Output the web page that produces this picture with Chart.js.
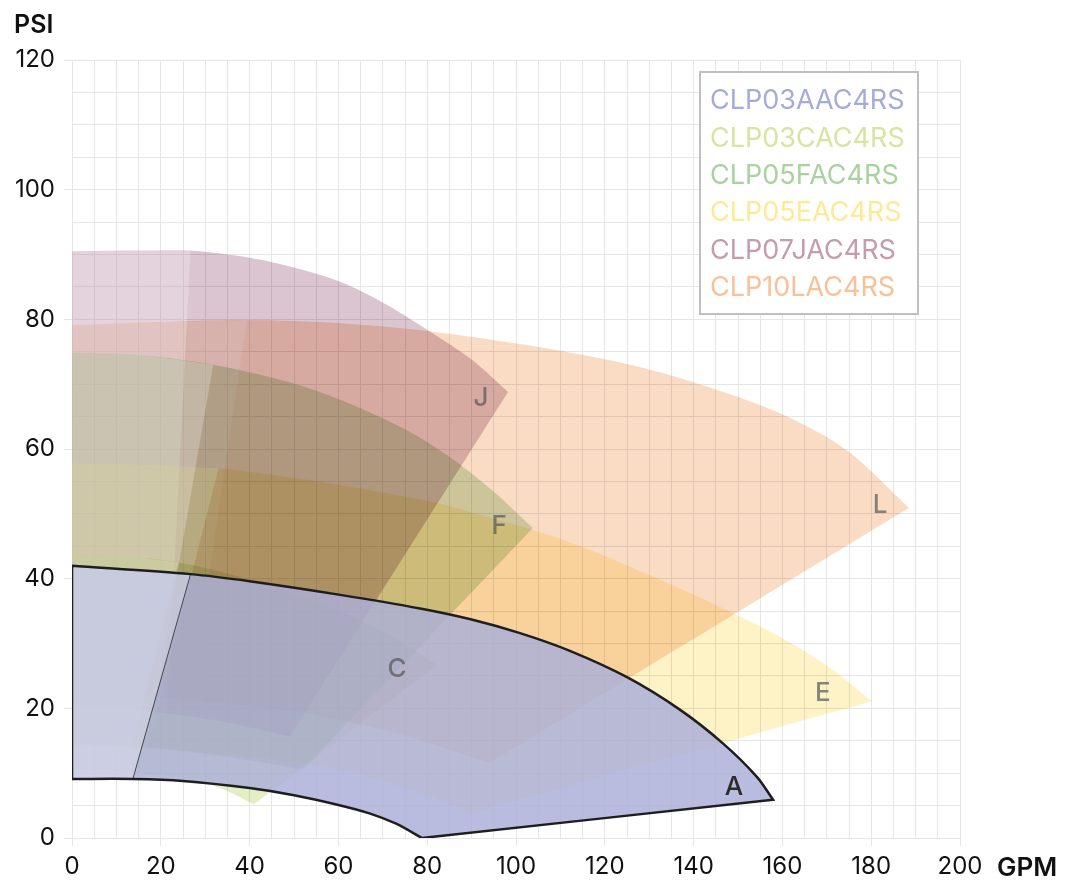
<!DOCTYPE html>
<html>
<head>
<meta charset="utf-8">
<script src="https://cdn.jsdelivr.net/npm/chart.js@4.4.1/dist/chart.umd.min.js"></script>
<style>
  html, body { margin: 0; padding: 0; background: #fff; }
  #wrap { width: 1065px; height: 882px; position: relative; }
</style>
</head>
<body>
<div id="wrap"><canvas id="pumpChart" width="1065" height="882"></canvas></div>
<script>
// Nama pompa dan huruf labelnya
const seriesNames = ['CLP03AAC4RS', 'CLP03CAC4RS', 'CLP05FAC4RS', 'CLP05EAC4RS', 'CLP07JAC4RS', 'CLP10LAC4RS'];
const seriesLetters = ['A', 'C', 'F', 'E', 'J', 'L'];

// Kurva atas (tekanan maks) dan kurva bawah tiap pompa, [GPM, PSI]
const aTop = [[0, 42], [26.7, 40.7], [40, 39.6], [60.4, 37.5], [78.4, 35.4], [90, 33.7], [100.9, 31.6], [112, 28.9], [125, 24.8], [136.9, 19.8], [146.6, 14.6], [154.3, 9.4], [157.9, 5.9]];
const aBottom = [[0, 9.1], [13.7, 9.1], [25, 8.8], [40, 7.7], [50, 6.6], [60, 5.1], [67, 3.8], [73, 2.2], [78.8, 0]];

const cTop = [[0, 43.6], [12, 43.4], [24, 42.5], [35, 40.8], [45, 38.8], [55, 36.5], [65, 33.5], [74, 30.3], [82.2, 26.7]];
const cBottom = [[0, 10.5], [12, 10.2], [24, 9.3], [33, 7.8], [41, 5.2]];

const fTop = [[0, 74.8], [15, 74.5], [31.8, 73], [49, 70.3], [60.4, 67.6], [75.4, 62.9], [85, 58.8], [95, 53.4], [103.8, 47.8]];
const fBottom = [[0, 14.5], [17, 14], [30, 13], [42, 11.8], [52, 10.5]];

const eTop = [[0, 57.8], [20, 57.5], [33, 57], [40, 56.5], [60, 54.5], [82, 51.7], [96, 49], [110.6, 46], [130.9, 40.3], [149.8, 34.4], [159.5, 31], [170, 26.6], [180.2, 21.1]];
const eBottom = [[0, 14], [17, 13.7], [40, 12.5], [60.4, 10.5], [75, 7.8], [90.3, 3.9]];

const jTop = [[0, 90.5], [15, 90.6], [26.7, 90.6], [40, 89.5], [50, 88], [60.4, 85.8], [70, 82.6], [80, 78.4], [90, 73.8], [98.2, 68.8]];
const jBottom = [[0, 20.5], [21.4, 19.2], [35, 17.8], [49, 15.6]];

const lTop = [[0, 79.1], [20, 79.6], [39.4, 79.9], [60.4, 79.4], [80, 78.2], [105.4, 75.7], [125, 73.1], [141.4, 70], [159.5, 65.5], [174.5, 59.8], [188.5, 50.9]];
const lBottom = [[0, 22], [26.7, 21.3], [50, 19.5], [65, 17.5], [78.4, 15.1], [94.1, 11.6]];

// Batas debit minimum (GPM di kurva atas, GPM di kurva bawah)
const minFlowAt = [[26.7, 13.7], [24, 12], [31.8, 17], [33, 17], [26.7, 21.4], [39.4, 26.7]];

// Posisi huruf label [GPM, PSI]
const letterAt = [[149.1, 7.9], [73.2, 26.1], [96.2, 48.1], [169.1, 22.4], [92.1, 67.9], [182, 51.4]];

const curves = [[aTop, aBottom], [cTop, cBottom], [fTop, fBottom], [eTop, eBottom], [jTop, jBottom], [lTop, lBottom]];

// Warna area (dikalikan / multiply), A digambar normal di atas
const areaColors = ['rgba(172,175,216,0.84)', 'rgb(228,238,196)', 'rgb(209,228,200)', 'rgb(254,243,199)', 'rgb(219,197,208)', 'rgb(250,220,197)'];
const textColors = ['rgb(166,171,215)', 'rgb(216,228,160)', 'rgb(168,210,158)', 'rgb(255,232,150)', 'rgb(196,156,173)', 'rgb(250,192,152)'];

function toPts(arr) {
    return arr.map(p => ({x: p[0], y: p[1]}));
}

// rangkai beberapa potongan garis; titik sambungan jadi sudut tajam
function chain(parts) {
    let out = [];
    parts.forEach(p => { out = out.concat(p); });
    return toPts(out);
}

function fullShape(top, bottom) {
    let tip = top[top.length - 1], bEnd = bottom[bottom.length - 1];
    return chain([top, [tip, bEnd], bottom.slice().reverse(), [bottom[0], top[0]]]);
}

function lowFlowShape(top, bottom, xs) {
    let t = top.filter(p => p[0] <= xs[0]);
    let b = bottom.filter(p => p[0] <= xs[1]);
    return chain([t, [t[t.length - 1], b[b.length - 1]], b.slice().reverse(), [b[0], t[0]]]);
}

// Susun dataset: indeks kecil digambar paling atas
let datasets = [];
let aSlantTop = aTop.find(p => p[0] === minFlowAt[0][0]);
let aSlantBot = aBottom.find(p => p[0] === minFlowAt[0][1]);
datasets.push({
    label: 'outline',
    data: fullShape(aTop, aBottom),
    borderColor: '#1e1e1e',
    borderWidth: 2.5,
    fill: false
});
datasets.push({
    label: 'slant',
    data: toPts([aSlantTop, aSlantBot]),
    borderColor: 'rgba(50,50,50,0.85)',
    borderWidth: 1,
    tension: 0,
    fill: false
});
curves.forEach(function(c, i) {
    let isA = i === 0;
    datasets.push({
        label: seriesNames[i] + ' low flow',
        data: lowFlowShape(c[0], c[1], minFlowAt[i]),
        backgroundColor: isA ? 'rgba(255,255,255,0.3)' : 'rgba(255,255,255,0.25)',
        borderWidth: 0,
        fill: 'shape',
        blend: 'source-over'
    });
    datasets.push({
        label: seriesNames[i],
        data: fullShape(c[0], c[1]),
        backgroundColor: areaColors[i],
        borderWidth: 0,
        fill: 'shape',
        blend: isA ? 'source-over' : 'multiply'
    });
});

const FONT = 'Inter, "Liberation Sans", sans-serif';

// atur mode blend untuk dataset berikutnya (digambar dari indeks terbesar)
const blendPlugin = {
    id: 'blendMode',
    beforeDatasetsDraw(chart) {
        let last = chart.data.datasets.length - 1;
        chart.ctx.globalCompositeOperation = chart.data.datasets[last].blend || 'source-over';
    },
    afterDatasetDraw(chart, args) {
        let next = chart.data.datasets[args.index - 1];
        chart.ctx.globalCompositeOperation = (next && next.blend) || 'source-over';
    },
    afterDatasetsDraw(chart) {
        chart.ctx.globalCompositeOperation = 'source-over';
    }
};

const overlayPlugin = {
    id: 'overlayText',
    afterDatasetsDraw(chart) {
        const ctx = chart.ctx;
        const xs = chart.scales.x, ys = chart.scales.y;
        ctx.save();
        ctx.globalCompositeOperation = 'source-over';
        ctx.font = '500 26px ' + FONT;
        ctx.textAlign = 'center';
        ctx.textBaseline = 'middle';
        seriesLetters.forEach(function(l, i) {
            ctx.fillStyle = i === 0 ? '#2b2b2b' : (i === 1 ? 'rgba(95,95,100,0.8)' : 'rgba(85,85,85,0.7)');
            ctx.fillText(l, xs.getPixelForValue(letterAt[i][0]), ys.getPixelForValue(letterAt[i][1]));
        });
        ctx.restore();
    },
    afterDraw(chart) {
        const ctx = chart.ctx;
        ctx.save();
        // kotak legenda
        ctx.fillStyle = '#fff';
        ctx.fillRect(700, 72, 218, 242);
        ctx.strokeStyle = 'rgb(190,190,195)';
        ctx.lineWidth = 2;
        ctx.strokeRect(700, 72, 218, 242);
        ctx.font = '27px ' + FONT;
        ctx.textAlign = 'left';
        ctx.textBaseline = 'middle';
        seriesNames.forEach(function(n, i) {
            ctx.fillStyle = textColors[i];
            ctx.fillText(n, 710, 101 + i * 37.4);
        });
        // judul sumbu
        ctx.fillStyle = '#111';
        ctx.font = '600 25px ' + FONT;
        ctx.textBaseline = 'alphabetic';
        ctx.fillText('PSI', 14, 33);
        ctx.font = '600 26px ' + FONT;
        ctx.fillText('GPM', 997, 876);
        ctx.restore();
    }
};

const gridColor = '#e6e6e6';

new Chart(document.getElementById('pumpChart').getContext('2d'), {
    type: 'scatter',
    data: { datasets: datasets },
    options: {
        responsive: false,
        animation: false,
        showLine: true,
        elements: { point: { radius: 0, hoverRadius: 0 }, line: { tension: 0.3 } },
        layout: { padding: { top: 60, right: 105, left: 0, bottom: 0 } },
        plugins: {
            legend: { display: false },
            tooltip: { enabled: false }
        },
        scales: {
            x: {
                type: 'linear',
                min: 0,
                max: 200,
                afterFit: function(scale) { scale.height = 44; },
                ticks: {
                    stepSize: 5,
                    autoSkip: false,
                    maxRotation: 0,
                    padding: 6,
                    color: '#111',
                    font: { family: FONT, size: 24 },
                    callback: v => (v % 20 === 0 ? v : '')
                },
                grid: {
                    color: gridColor,
                    tickLength: 8,
                    tickColor: c => (c.tick && c.tick.value % 20 === 0 ? gridColor : 'transparent')
                },
                border: { color: gridColor }
            },
            y: {
                type: 'linear',
                min: 0,
                max: 120,
                afterFit: function(scale) { scale.width = 72; },
                ticks: {
                    stepSize: 5,
                    autoSkip: false,
                    padding: 9,
                    color: '#111',
                    font: { family: FONT, size: 24 },
                    callback: v => (v % 20 === 0 ? v : '')
                },
                grid: {
                    color: gridColor,
                    tickLength: 8,
                    tickColor: c => (c.tick && c.tick.value % 20 === 0 ? gridColor : 'transparent')
                },
                border: { color: gridColor }
            }
        }
    },
    plugins: [blendPlugin, overlayPlugin]
});
</script>
</body>
</html>
